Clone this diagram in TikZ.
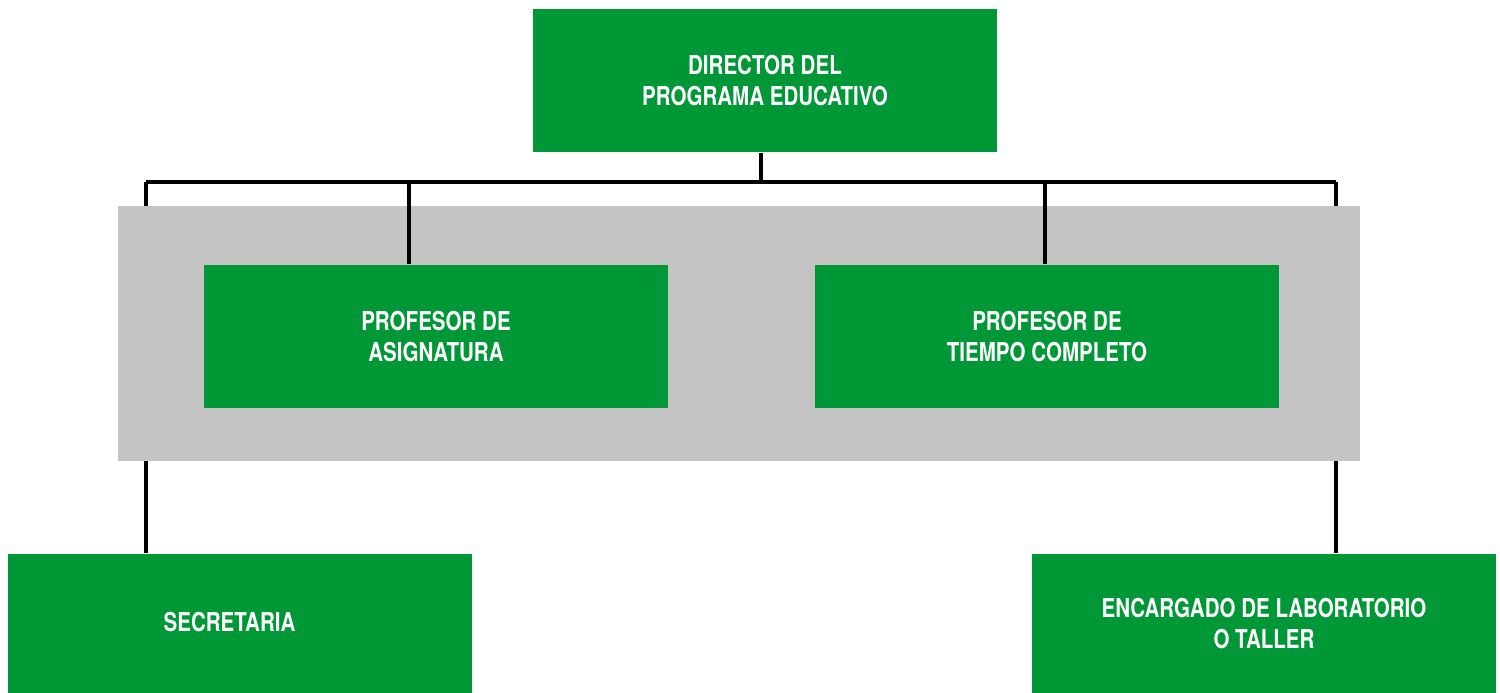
\documentclass[tikz,border=0pt]{standalone}
\usepackage{fontspec}
\setmainfont{TeX Gyre Heros}[FakeStretch=0.79]
\usetikzlibrary{positioning}
\definecolor{verde}{HTML}{009836}
\definecolor{gris}{HTML}{C4C4C4}
\tikzset{
    puesto/.style={fill=verde, text=white, font=\bfseries\fontsize{7.4}{9.0}\selectfont, align=center, minimum width=4.64cm, minimum height=1.43cm, inner sep=0pt},
    enlace/.style={line width=0.9pt, black}
}

\begin{document}
\begin{tikzpicture}
        \useasboundingbox (0,0) rectangle (15,-6.93);
        % lineas de enlace
        \coordinate (bus) at (7.61,-1.82);
        \coordinate (busA) at (1.46,-1.82);
        \coordinate (busB) at (4.09,-1.82);
        \coordinate (busC) at (10.45,-1.82);
        \coordinate (busD) at (13.36,-1.82);
        \node [puesto] (dir) at (7.65,-0.805) {DIRECTOR DEL\\PROGRAMA EDUCATIVO};
        \node [puesto, minimum height=1.39cm] (sec) at (2.395,-6.235) {\raisebox{0.03cm}{SECRETARIA}\hspace*{0.2cm}};
        \node [puesto, minimum height=1.39cm] (lab) at (12.64,-6.235) {ENCARGADO DE LABORATORIO\\O TALLER};
        \draw [enlace] (dir.south -| bus) -- (bus);
        \draw [enlace] (busA) -- (busD);
        \draw [enlace] (busA) -- (busA |- sec.north);
        \draw [enlace] (busD) -- (busD |- lab.north);
        % bloque docente
        \path [fill=gris] (1.18,-2.06) rectangle (13.60,-4.61);
        \node [puesto] (asig) at (4.36,-3.365) {PROFESOR DE\\ASIGNATURA};
        \node [puesto] (tc) at (10.47,-3.365) {PROFESOR DE\\TIEMPO COMPLETO};
        \draw [enlace] (busB) -- (busB |- asig.north);
        \draw [enlace] (busC) -- (busC |- tc.north);
\end{tikzpicture}
\end{document}
